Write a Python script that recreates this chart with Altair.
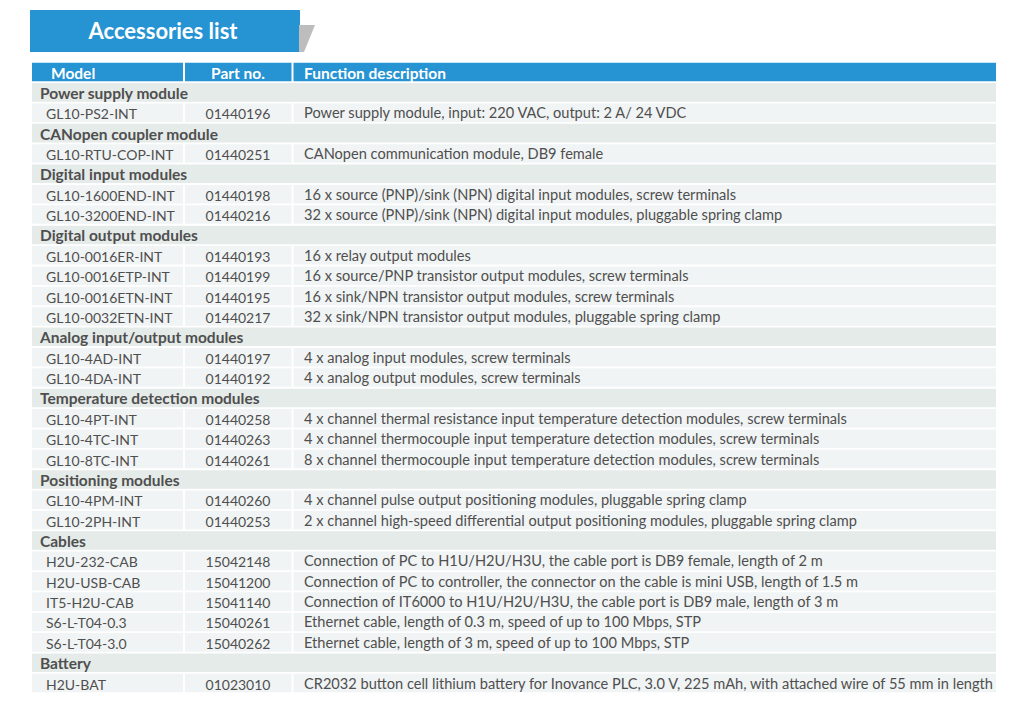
import altair as alt
import pandas as pd

# ---------------- data ----------------
title_text = "Accessories list"
headers = ["Model", "Part no.", "Function description"]

groups = [
    "Power supply module",
    "CANopen coupler module",
    "Digital input modules",
    "Digital output modules",
    "Analog input/output modules",
    "Temperature detection modules",
    "Positioning modules",
    "Cables",
    "Battery",
]

item_group = [0, 1, 2, 2, 3, 3, 3, 3, 4, 4, 5, 5, 5, 6, 6, 7, 7, 7, 7, 7, 8]

models = [
    "GL10-PS2-INT",
    "GL10-RTU-COP-INT",
    "GL10-1600END-INT",
    "GL10-3200END-INT",
    "GL10-0016ER-INT",
    "GL10-0016ETP-INT",
    "GL10-0016ETN-INT",
    "GL10-0032ETN-INT",
    "GL10-4AD-INT",
    "GL10-4DA-INT",
    "GL10-4PT-INT",
    "GL10-4TC-INT",
    "GL10-8TC-INT",
    "GL10-4PM-INT",
    "GL10-2PH-INT",
    "H2U-232-CAB",
    "H2U-USB-CAB",
    "IT5-H2U-CAB",
    "S6-L-T04-0.3",
    "S6-L-T04-3.0",
    "H2U-BAT",
]

part_nos = [
    "01440196", "01440251", "01440198", "01440216", "01440193", "01440199",
    "01440195", "01440217", "01440197", "01440192", "01440258", "01440263",
    "01440261", "01440260", "01440253", "15042148", "15041200", "15041140",
    "15040261", "15040262", "01023010",
]

descriptions = [
    "Power supply module, input: 220 VAC, output: 2 A/ 24 VDC",
    "CANopen communication module, DB9 female",
    "16 x source (PNP)/sink (NPN) digital input modules, screw terminals",
    "32 x source (PNP)/sink (NPN) digital input modules, pluggable spring clamp",
    "16 x relay output modules",
    "16 x source/PNP transistor output modules, screw terminals",
    "16 x sink/NPN transistor output modules, screw terminals",
    "32 x sink/NPN transistor output modules, pluggable spring clamp",
    "4 x analog input modules, screw terminals",
    "4 x analog output modules, screw terminals",
    "4 x channel thermal resistance input temperature detection modules, screw terminals",
    "4 x channel thermocouple input temperature detection modules, screw terminals",
    "8 x channel thermocouple input temperature detection modules, screw terminals",
    "4 x channel pulse output positioning modules, pluggable spring clamp",
    "2 x channel high-speed differential output positioning modules, pluggable spring clamp",
    "Connection of PC to H1U/H2U/H3U, the cable port is DB9 female, length of 2 m",
    "Connection of PC to controller, the connector on the cable is mini USB, length of 1.5 m",
    "Connection of IT6000 to H1U/H2U/H3U, the cable port is DB9 male, length of 3 m",
    "Ethernet cable, length of 0.3 m, speed of up to 100 Mbps, STP",
    "Ethernet cable, length of 3 m, speed of up to 100 Mbps, STP",
    "CR2032 button cell lithium battery for Inovance PLC, 3.0 V, 225 mAh, with attached wire of 55 mm in length",
]

# ---------------- layout ----------------
W, H = 1008, 697
MARGIN = 8
HEADER_CENTER = 72.0   # page px
PITCH = 20.37
HALF = 0.455           # half cell height in row units

BLUE = "#2693d3"
CAT_BG = "#e5ebe9"
ROW_BG = "#f1f4f4"
TXT = "#4f4f4f"
FONT = "Lato"

def row_of(page_y):
    return (page_y - HEADER_CENTER) / PITCH

y_dom = [row_of(MARGIN), row_of(MARGIN + H)]
xs = alt.Scale(domain=[MARGIN, MARGIN + W], nice=False, zero=False)
ys = alt.Scale(domain=y_dom, nice=False, zero=False, reverse=True)

cols = [(32, 183), (185, 291.5), (293.5, 996)]
TABLE_L, TABLE_R = 32, 996

# build row table
cat_rows, item_rows = [], []
r = 1
for gi, g in enumerate(groups):
    cat_rows.append({"row": r, "label": g})
    r += 1
    for k, grp in enumerate(item_group):
        if grp == gi:
            item_rows.append({"row": r, "model": models[k], "part": part_nos[k], "desc": descriptions[k]})
            r += 1
cat_df = pd.DataFrame(cat_rows)
item_df = pd.DataFrame(item_rows)
item_df["xm"] = 46
item_df["xp"] = 238
item_df["xd"] = 304

cells = []
for it in item_rows:
    for (a, b) in cols:
        cells.append({"row": it["row"], "x": a, "x2": b})
cells_df = pd.DataFrame(cells)
cells_df["y"] = cells_df["row"] - HALF
cells_df["y2"] = cells_df["row"] + HALF

cat_df["y"] = cat_df["row"] - HALF
cat_df["y2"] = cat_df["row"] + HALF
cat_df["x"] = TABLE_L
cat_df["x2"] = TABLE_R
cat_df["xt"] = 40

head_df = pd.DataFrame({"x": [c[0] for c in cols], "x2": [c[1] for c in cols],
                        "y": [-HALF] * 3, "y2": [HALF] * 3})

X = lambda f: alt.X(f, type="quantitative", scale=xs, axis=None)
Y = lambda f: alt.Y(f, type="quantitative", scale=ys, axis=None)

# title banner
banner_df = pd.DataFrame({"x": [30], "x2": [300], "y": [row_of(10)], "y2": [row_of(52)]})
banner = alt.Chart(banner_df).mark_rect(color=BLUE).encode(x=X("x"), x2="x2", y=Y("y"), y2="y2")

shadow_df = pd.DataFrame({"x": [299, 304, 315], "y": [row_of(25)] * 3,
                          "y2": [row_of(52), row_of(52), row_of(25)]})
shadow = alt.Chart(shadow_df).mark_area(color="#bdbdbd", orient="vertical").encode(
    x=X("x"), y=Y("y"), y2="y2")

title_df = pd.DataFrame({"t": [title_text], "x": [163], "y": [row_of(32)]})
title = alt.Chart(title_df).mark_text(
    font=FONT, fontSize=22, fontWeight="bold", color="white", align="center", baseline="middle"
).encode(x=X("x"), y=Y("y"), text="t:N")

head_rects = alt.Chart(head_df).mark_rect(color=BLUE).encode(x=X("x"), x2="x2", y=Y("y"), y2="y2")

hdr_pos = [(51, "left"), (238, "center"), (304, "left")]
head_texts = [
    alt.Chart(pd.DataFrame({"t": [h], "x": [px], "y": [0.0]})).mark_text(
        font=FONT, fontSize=15.5, fontWeight="bold", color="white", align=al, baseline="middle", dy=1.5
    ).encode(x=X("x"), y=Y("y"), text="t:N")
    for h, (px, al) in zip(headers, hdr_pos)
]

cat_rects = alt.Chart(cat_df).mark_rect(color=CAT_BG).encode(x=X("x"), x2="x2", y=Y("y"), y2="y2")
cell_rects = alt.Chart(cells_df).mark_rect(color=ROW_BG).encode(x=X("x"), x2="x2", y=Y("y"), y2="y2")

cat_text = alt.Chart(cat_df).mark_text(
    font=FONT, fontSize=15.5, fontWeight="bold", color=TXT, align="left", baseline="middle", dy=1.5
).encode(x=X("xt"), y=Y("row"), text="label:N")

model_text = alt.Chart(item_df).mark_text(
    font=FONT, fontSize=14, color=TXT, align="left", baseline="middle", dy=2.5
).encode(x=X("xm"), y=Y("row"), text="model:N")

part_text = alt.Chart(item_df).mark_text(
    font=FONT, fontSize=14, color=TXT, align="center", baseline="middle", dy=2.5
).encode(x=X("xp"), y=Y("row"), text="part:N")

desc_text = alt.Chart(item_df).mark_text(
    font=FONT, fontSize=14.6, color=TXT, align="left", baseline="middle", dy=1.5
).encode(x=X("xd"), y=Y("row"), text="desc:N")

chart = alt.layer(
    banner, shadow, title, head_rects, *head_texts, cat_rects, cell_rects,
    cat_text, model_text, part_text, desc_text
).properties(
    width=W, height=H, padding=0, autosize=alt.AutoSizeParams(type="none"), background="white"
).configure_view(stroke=None)

chart.save("out.html", embed_options={"renderer": "svg", "actions": False})
